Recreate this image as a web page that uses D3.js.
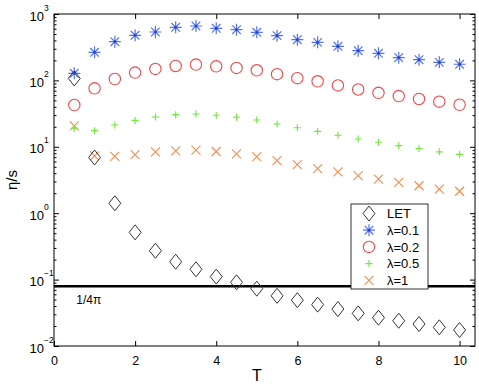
<!DOCTYPE html>
<html>
<head>
<meta charset="UTF-8">
<title>eta/s vs T</title>
<script src="https://d3js.org/d3.v7.min.js"></script>
<style>
    body { margin: 0; background: #fff; }
    text { font-family: "Liberation Sans", Arial, sans-serif; fill: #000; }
    .axis path { display: none; }
    .axis line { stroke: #000; }
</style>
</head>
<body>
<script>
    const T = [0.5, 1, 1.5, 2, 2.5, 3, 3.5, 4, 4.5, 5, 5.5, 6, 6.5, 7, 7.5, 8, 8.5, 9, 9.5, 10];
    const LET = [107, 6.9, 1.41, 0.515, 0.272, 0.186, 0.143, 0.111, 0.091, 0.073, 0.057, 0.049, 0.042, 0.036, 0.031, 0.0267, 0.024, 0.0214, 0.0191, 0.0174];
    const lam01 = [128, 265, 383, 478, 536, 631, 660, 608, 580, 530, 472, 410, 374, 326, 280, 256, 220, 205, 187, 175];
    const lam02 = [42.6, 76, 105, 131, 149, 165, 173, 163, 154, 142, 124, 108, 97, 84, 73, 65, 58, 52.5, 47.9, 43];
    const lam05 = [19, 17.5, 21.3, 25, 28.1, 30.5, 31.2, 29.8, 27.8, 25.3, 22, 19.4, 17.1, 14.9, 13.1, 11.7, 10.4, 9.4, 8.4, 7.7];
    const lam1 = [20.6, 7.3, 7.2, 7.6, 8.4, 8.7, 8.9, 8.5, 7.8, 7.1, 6.2, 5.4, 4.7, 4.2, 3.67, 3.27, 2.91, 2.59, 2.31, 2.14];
    const xTicks = [0, 2, 4, 6, 8, 10];
    const yExps = [-2, -1, 0, 1, 2, 3];
    const bound = 1 / (4 * Math.PI);

    const width = 479, height = 388;
    const marginLeft = 54, marginRight = 4, marginTop = 14, marginBottom = 42;
    const chartWidth = width - marginLeft - marginRight;
    const chartHeight = height - marginTop - marginBottom;

    const svg = d3.select('body').append('svg')
        .attr('width', width)
        .attr('height', height);

    const x = d3.scaleLinear().domain([0, 10.38]).range([0, chartWidth]);
    const y = d3.scaleLog().domain([1e-2, 1e3]).range([chartHeight, 0]);

    const g = svg.append('g')
        .attr('transform', `translate(${marginLeft}, ${marginTop})`);

    // minor log ticks
    const minor = [];
    yExps.slice(0, -1).forEach(e => {
        for (let k = 2; k <= 9; k++) minor.push(k * Math.pow(10, e));
    });

    g.append('g').attr('class', 'axis')
        .call(d3.axisLeft(y).tickValues(minor).tickSize(-2.5).tickFormat(''));
    g.append('g').attr('class', 'axis')
        .attr('transform', `translate(${chartWidth},0)`)
        .call(d3.axisRight(y).tickValues(minor).tickSize(-2.5).tickFormat(''));
    g.append('g').attr('class', 'axis')
        .attr('transform', `translate(${chartWidth},0)`)
        .call(d3.axisRight(y).tickValues(yExps.map(e => Math.pow(10, e))).tickSize(-5).tickFormat(''));

    const yAxis = g.append('g').attr('class', 'axis')
        .call(d3.axisLeft(y).tickValues(yExps.map(e => Math.pow(10, e))).tickSize(-5).tickFormat(''));
    // "10" then a raised exponent
    yAxis.selectAll('.tick').append('text')
        .attr('x', -10).attr('y', 1.5)
        .attr('dy', '0.35em')
        .attr('text-anchor', 'end')
        .style('font-size', '13px')
        .text('10');
    yAxis.selectAll('.tick').append('text')
        .attr('x', -10).attr('y', -4)
        .attr('text-anchor', 'start')
        .style('font-size', '8.5px')
        .text(d => {
            const e = Math.round(Math.log10(d));
            return e < 0 ? '\u2212' + (-e) : e;
        });

    const xAxis = g.append('g').attr('class', 'axis')
        .attr('transform', `translate(0,${chartHeight})`)
        .call(d3.axisBottom(x).tickValues(xTicks).tickSize(-5));
    xAxis.selectAll('text').style('font-size', '12.5px').attr('y', 10);
    g.append('g').attr('class', 'axis')
        .call(d3.axisTop(x).tickValues(xTicks).tickSize(-5).tickFormat(''));

    // frame
    g.append('rect')
        .attr('width', chartWidth).attr('height', chartHeight)
        .attr('fill', 'none').attr('stroke', '#000').attr('stroke-width', 1);

    // axis labels
    svg.append('text')
        .attr('x', marginLeft + x(5)).attr('y', 381)
        .attr('text-anchor', 'middle')
        .style('font-size', '16px')
        .text('T');
    svg.append('text')
        .attr('transform', `translate(17, ${marginTop + chartHeight / 2}) rotate(-90)`)
        .attr('text-anchor', 'middle')
        .style('font-size', '15px')
        .text('\u03b7/s');

    // 1/4pi line
    g.append('line')
        .attr('x1', 0).attr('x2', chartWidth)
        .attr('y1', y(bound)).attr('y2', y(bound))
        .attr('stroke', '#000').attr('stroke-width', 2.5);
    g.append('text')
        .attr('x', x(0.55)).attr('y', y(bound) + 18)
        .style('font-size', '12px')
        .text('1/4\u03c0');

    // markers
    const markers = {
        diamond: (sel, c) => sel.append('path').attr('d', 'M0,-7.5L6,0L0,7.5L-6,0Z')
            .attr('fill', 'none').attr('stroke', c).attr('stroke-width', 1),
        star: (sel, c) => {
            sel.append('path').attr('d', 'M-6,0H6M0,-6V6M-4.3,-4.3L4.3,4.3M-4.3,4.3L4.3,-4.3')
                .attr('stroke', c).attr('stroke-width', 1.2);
            sel.append('circle').attr('r', 1.3).attr('fill', '#2244cc');
        },
        circle: (sel, c) => sel.append('circle').attr('r', 5.7)
            .attr('fill', 'none').attr('stroke', c).attr('stroke-width', 1.1),
        plus: (sel, c) => sel.append('path').attr('d', 'M-3.5,0H3.5M0,-3.5V3.5')
            .attr('stroke', c).attr('stroke-width', 1.1),
        cross: (sel, c) => sel.append('path').attr('d', 'M-4.5,-4.5L4.5,4.5M-4.5,4.5L4.5,-4.5')
            .attr('stroke', c).attr('stroke-width', 1.1)
    };

    const series = [
        { name: 'LET', values: LET, marker: 'diamond', color: '#333' },
        { name: '\u03bb=0.1', values: lam01, marker: 'star', color: '#5573f2' },
        { name: '\u03bb=0.2', values: lam02, marker: 'circle', color: '#f04848' },
        { name: '\u03bb=0.5', values: lam05, marker: 'plus', color: '#6ee83a' },
        { name: '\u03bb=1', values: lam1, marker: 'cross', color: '#f88c4a' }
    ];

    series.slice().reverse().forEach(s => {
        g.append('g').selectAll('g')
            .data(s.values.map((v, i) => [T[i], v]))
            .enter().append('g')
            .attr('transform', d => `translate(${x(d[0])},${y(d[1])})`)
            .each(function() { markers[s.marker](d3.select(this), s.color); });
    });

    // legend
    const legend = svg.append('g').attr('transform', 'translate(351, 204)');
    legend.append('rect')
        .attr('width', 77).attr('height', 85)
        .attr('fill', '#fff').attr('stroke', '#000').attr('stroke-width', 0.8);
    series.forEach((s, i) => {
        const row = legend.append('g').attr('transform', `translate(0, ${9.5 + i * 16.7})`);
        markers[s.marker](row.append('g').attr('transform', 'translate(18,0)'), s.color);
        row.append('text')
            .attr('x', 36).attr('dy', '0.36em')
            .style('font-size', '13px')
            .text(s.name);
    });
</script>
</body>
</html>
